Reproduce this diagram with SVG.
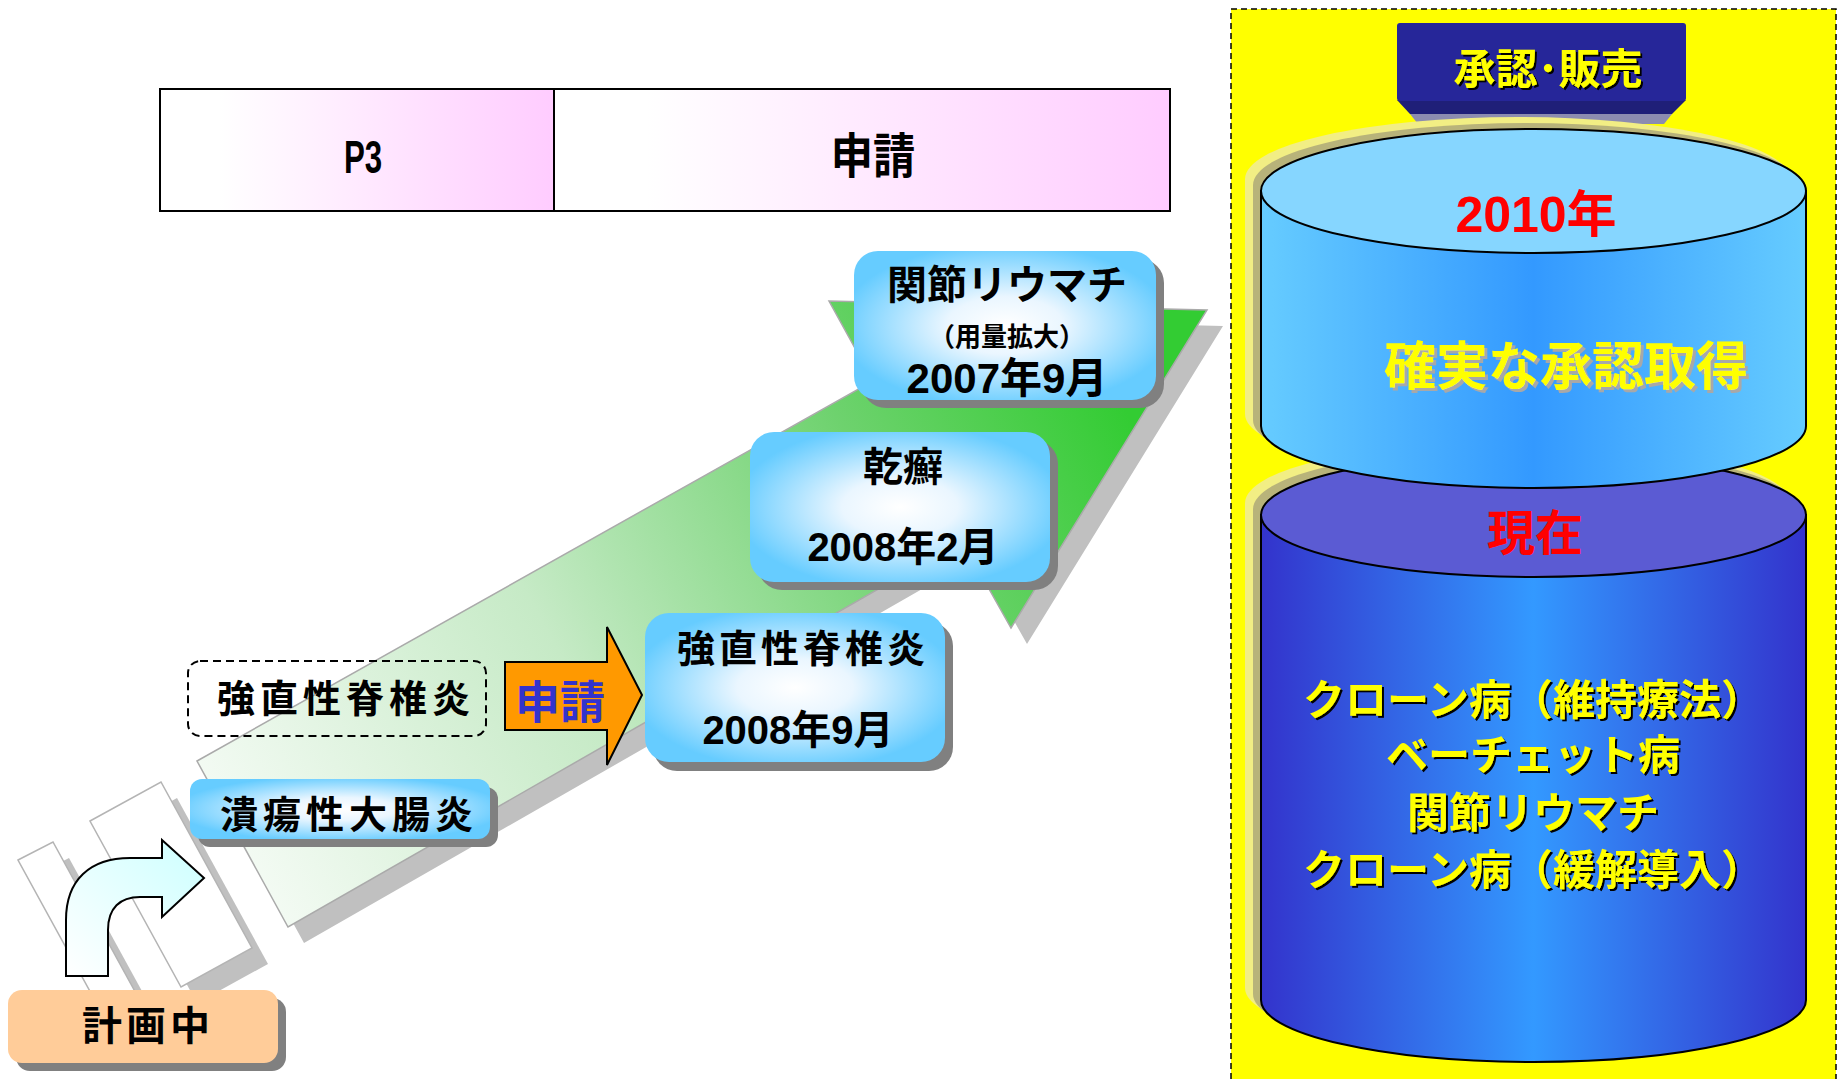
<svg xmlns="http://www.w3.org/2000/svg" width="1838" height="1079" viewBox="0 0 1838 1079">
<defs>
<style>
.t{font-family:"Liberation Sans","Noto Sans CJK JP",sans-serif;font-weight:bold;text-anchor:middle;fill:#000}
.tn{font-family:"Liberation Sans","Noto Sans CJK JP",sans-serif;font-weight:bold;text-anchor:middle;fill:#000}
.box{fill:url(#boxg)}
.sh{fill:#808080}
</style>
<linearGradient id="pink" x1="0" y1="0" x2="1" y2="0">
<stop offset="0.15" stop-color="#FFFFFF"/><stop offset="1" stop-color="#FFCCFF"/>
</linearGradient>
<radialGradient id="boxg" cx="0.5" cy="0.5" r="0.55">
<stop offset="0" stop-color="#FFFFFF"/><stop offset="0.35" stop-color="#EAF6FF"/><stop offset="1" stop-color="#66CCFF"/>
</radialGradient>
<linearGradient id="green" gradientUnits="userSpaceOnUse" x1="230" y1="900" x2="1120" y2="400">
<stop offset="0" stop-color="#F7FCF7"/><stop offset="0.4" stop-color="#C6EAC6"/><stop offset="0.75" stop-color="#6ED26E"/><stop offset="1" stop-color="#33CC33"/>
</linearGradient>
<linearGradient id="cyan" x1="0" y1="1" x2="1" y2="0">
<stop offset="0" stop-color="#FFFFFF"/><stop offset="1" stop-color="#CCFFFF"/>
</linearGradient>
<linearGradient id="upbody" x1="0" y1="0" x2="1" y2="0">
<stop offset="0" stop-color="#66CCFF"/><stop offset="0.5" stop-color="#3399FF"/><stop offset="1" stop-color="#66CCFF"/>
</linearGradient>
<linearGradient id="lowbody" x1="0" y1="0" x2="1" y2="0">
<stop offset="0" stop-color="#3333CC"/><stop offset="0.5" stop-color="#3399FF"/><stop offset="1" stop-color="#3333CC"/>
</linearGradient>
<filter id="ts" x="-5%" y="-10%" width="115%" height="130%">
<feDropShadow dx="2" dy="2" stdDeviation="0" flood-color="#000000"/>
</filter>
<filter id="tsg" x="-5%" y="-10%" width="115%" height="130%">
<feDropShadow dx="3" dy="3" stdDeviation="0" flood-color="#A8A8A8"/>
</filter>
</defs>

<rect width="1838" height="1079" fill="#FFFFFF"/>

<!-- phase bar -->
<g id="phase-bar">
<rect x="160" y="89" width="394" height="122" fill="url(#pink)" stroke="#000" stroke-width="2"/>
<rect x="554" y="89" width="616" height="122" fill="url(#pink)" stroke="#000" stroke-width="2"/>
<text class="tn" transform="translate(363,173) scale(0.68,1)" x="0" y="0" font-size="46">P3</text>
<text class="tn" transform="translate(873,173) scale(0.88,1)" x="0" y="0" font-size="48">申請</text>
</g>

<!-- big progress arrow -->
<g id="progress-arrow">
<polygon points="34,876 69,858 160,1024 125,1042" fill="#C0C0C0"/>
<polygon points="106,837 177,798 268,964 197,1003" fill="#C0C0C0"/>
<polygon points="213,777 889,397 845,317 1223,326 1027,644 978,557 304,943" fill="#C0C0C0"/>
<polygon points="18,860 53,842 144,1008 109,1026" fill="#FFFFFF" stroke="#B4B4B4" stroke-width="1.5"/>
<polygon points="90,821 161,782 252,948 181,987" fill="#FFFFFF" stroke="#B4B4B4" stroke-width="1.5"/>
<polygon points="197,761 873,381 829,301 1207,310 1011,628 962,541 288,927" fill="url(#green)" stroke="#AAAAAA" stroke-width="1.5"/>
</g>

<!-- curved arrow -->
<g id="curved-arrow">
<path d="M66 976 L66 920 C66 880 90 858 130 858 L162 858 L162 840 L204 878 L162 917 L162 897 L140 897 C120 897 108 908 108 930 L108 976 Z" fill="url(#cyan)" stroke="#000" stroke-width="2"/>
</g>

<!-- planning node -->
<g id="node-planning">
<rect x="16" y="998" width="270" height="73" rx="14" class="sh"/>
<rect x="8" y="990" width="270" height="73" rx="14" fill="#FFCC99"/>
<text class="t" x="148" y="1040" font-size="40" letter-spacing="4">計画中</text>
</g>

<!-- UC node -->
<g id="node-uc">
<rect x="198" y="787" width="300" height="60" rx="12" class="sh"/>
<rect x="190" y="779" width="300" height="60" rx="12" class="box"/>
<text class="t" x="349" y="828" font-size="38" letter-spacing="5">潰瘍性大腸炎</text>
</g>

<!-- dashed AS node -->
<g id="node-as-planned">
<rect x="188" y="661" width="298" height="75" rx="12" fill="none" stroke="#000" stroke-width="2" stroke-dasharray="8,5"/>
<text class="t" x="346" y="712" font-size="38" letter-spacing="5">強直性脊椎炎</text>
</g>

<!-- connectors -->
<g id="connectors">
<polygon points="505,662 607,662 607,627 642,695 607,765 607,730 505,730" fill="#FF9900" stroke="#000" stroke-width="2"/>
<text class="t" x="560" y="719" font-size="45" style="fill:#3333CC">申請</text>
</g>

<!-- AS node -->
<g id="node-as">
<rect x="653" y="622" width="300" height="149" rx="24" class="sh"/>
<rect x="645" y="613" width="300" height="149" rx="24" class="box"/>
<text class="t" x="803" y="662" font-size="38" letter-spacing="4">強直性脊椎炎</text>
<text class="t" x="798" y="744" font-size="40">2008年9月</text>
</g>

<!-- psoriasis node -->
<g id="node-psoriasis">
<rect x="758" y="440" width="300" height="150" rx="24" class="sh"/>
<rect x="750" y="432" width="300" height="150" rx="24" class="box"/>
<text class="t" x="903" y="481" font-size="40">乾癬</text>
<text class="t" x="903" y="561" font-size="40">2008年2月</text>
</g>

<!-- RA node -->
<g id="node-ra">
<rect x="862" y="259" width="302" height="149" rx="24" class="sh"/>
<rect x="854" y="251" width="302" height="149" rx="24" class="box"/>
<text class="t" x="1007" y="299" font-size="40">関節リウマチ</text>
<text class="t" x="1007" y="346" font-size="26">（用量拡大）</text>
<text class="t" x="1007" y="393" font-size="42">2007年9月</text>
</g>

<!-- approval panel -->
<g id="panel-approval">
<rect x="1231" y="9" width="605" height="1085" fill="#FFFF00" stroke="#000" stroke-width="1.5" stroke-dasharray="6,4"/>
</g>

<g id="title-approval">
<polygon points="1410,114 1672,114 1664,124 1418,124" fill="#8C8CB0"/>
<polygon points="1397,100 1686,100 1672,114 1410,114" fill="#1F1F78"/>
<rect x="1397" y="23" width="289" height="78" rx="3" fill="#262699"/>
<text class="t" x="1548" y="84" font-size="42" filter="url(#ts)" style="fill:#FFFF00">承認･販売</text>
</g>

<g id="cylinder-current">
<path d="M1261 515 A272.5 62 0 0 1 1806 515 L1806 1000 A272.5 62 0 0 1 1261 1000 Z" transform="translate(-16,-12)" fill="#F2EE84"/>
<path d="M1261 515 A272.5 62 0 0 1 1806 515 L1806 1000 A272.5 62 0 0 1 1261 1000 Z" transform="translate(-8,-6)" fill="#B8B37A"/>
<path d="M1261 515 L1261 1000 A272.5 62 0 0 0 1806 1000 L1806 515 Z" fill="url(#lowbody)" stroke="#000" stroke-width="2"/>
<ellipse cx="1533.5" cy="515" rx="272.5" ry="62" fill="#5B5BD3" stroke="#000" stroke-width="2"/>
<text class="t" x="1535" y="550" font-size="48" style="fill:#FF0000">現在</text>
<g filter="url(#ts)">
<text class="t" x="1533" y="715" font-size="42" style="fill:#FFFF00">クローン病（維持療法）</text>
<text class="t" x="1533" y="770" font-size="42" style="fill:#FFFF00">ベーチェット病</text>
<text class="t" x="1533" y="828" font-size="42" style="fill:#FFFF00">関節リウマチ</text>
<text class="t" x="1533" y="885" font-size="42" style="fill:#FFFF00">クローン病（緩解導入）</text>
</g>
</g>

<g id="cylinder-target">
<path d="M1261 191 A272.5 62 0 0 1 1806 191 L1806 426 A272.5 62 0 0 1 1261 426 Z" transform="translate(-16,-12)" fill="#F2EE84"/>
<path d="M1261 191 A272.5 62 0 0 1 1806 191 L1806 426 A272.5 62 0 0 1 1261 426 Z" transform="translate(-8,-6)" fill="#B8B37A"/>
<path d="M1261 191 L1261 426 A272.5 62 0 0 0 1806 426 L1806 191 Z" fill="url(#upbody)" stroke="#000" stroke-width="2"/>
<ellipse cx="1533.5" cy="191" rx="272.5" ry="62" fill="#86D6FF" stroke="#000" stroke-width="2"/>
<text class="t" x="1536" y="232" font-size="50" style="fill:#FF0000">2010年</text>
<text class="t" x="1566" y="385" font-size="52" filter="url(#tsg)" style="fill:#FFFF00">確実な承認取得</text>
</g>
</svg>
